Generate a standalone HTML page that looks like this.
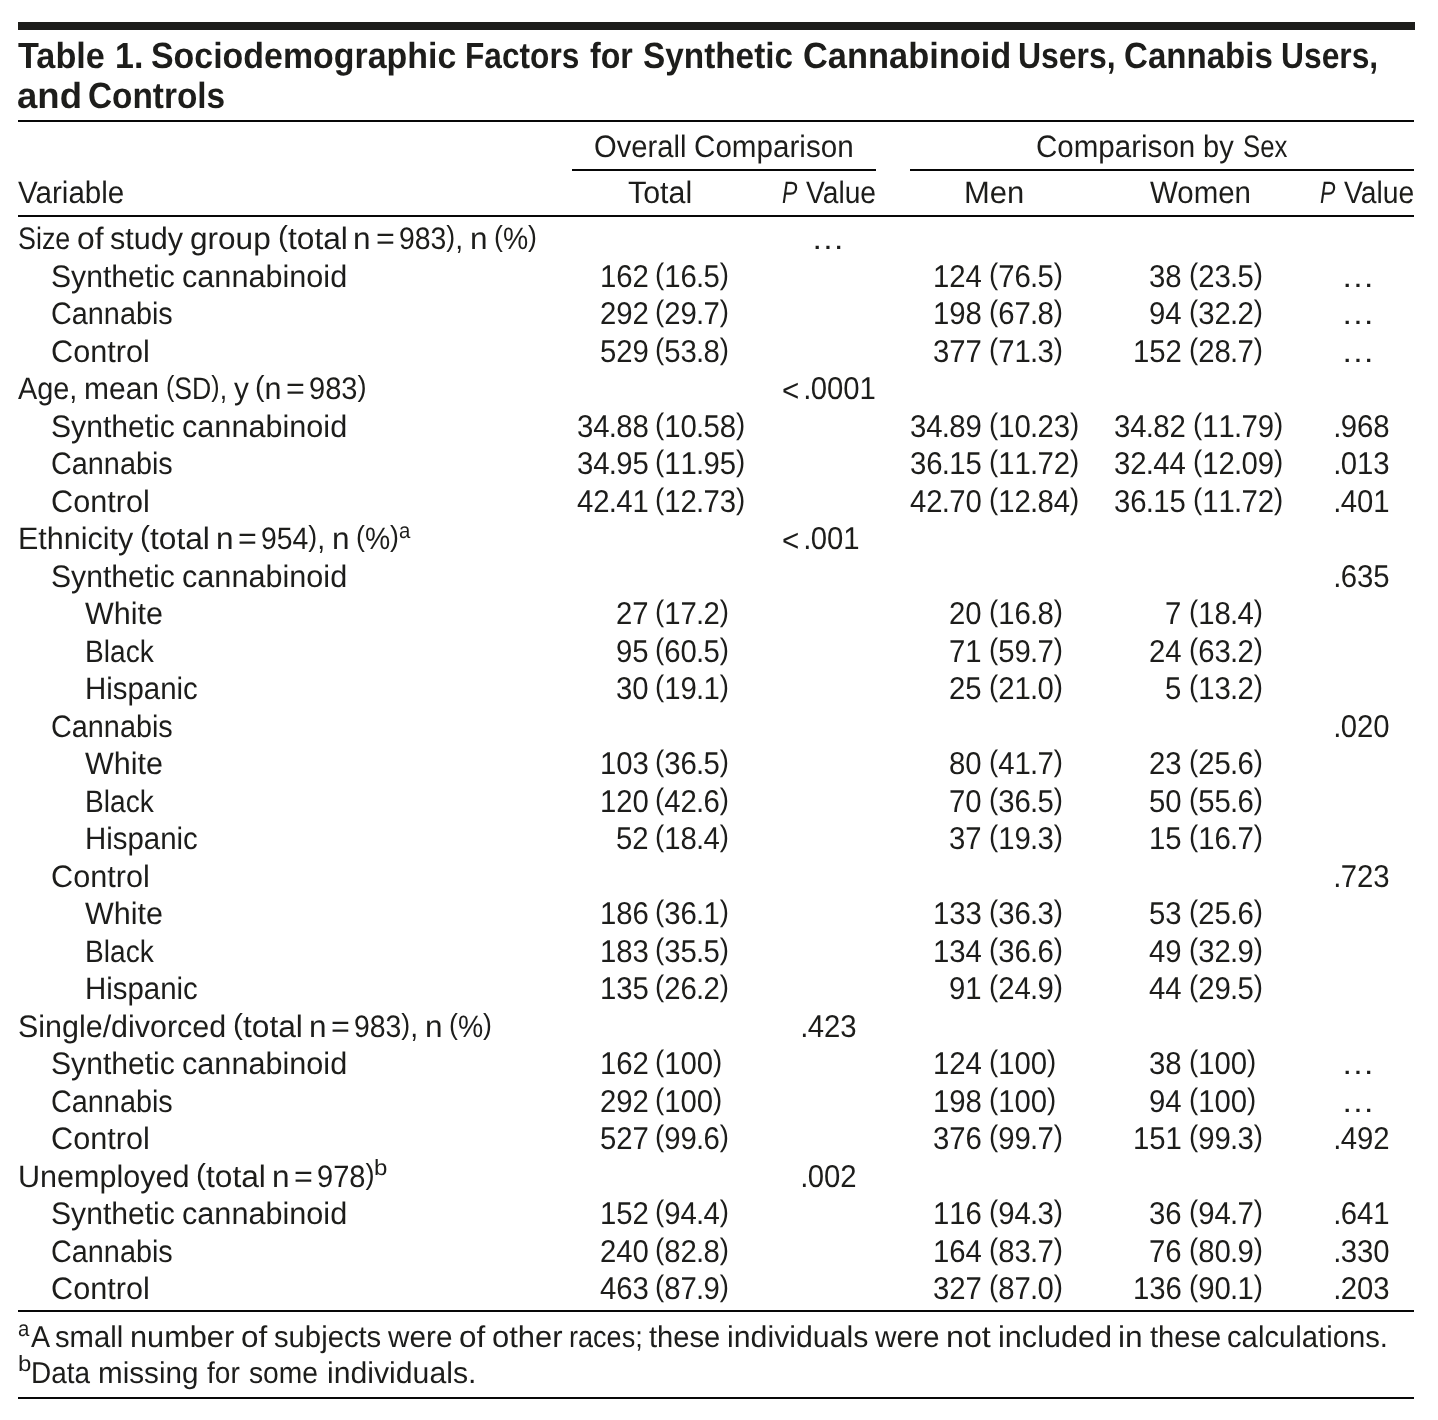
<!DOCTYPE html>
<html lang="en"><head><meta charset="utf-8"><title>Table 1</title>
<style>
html,body{margin:0;padding:0;background:#fff}
#p{position:relative;width:1438px;height:1420px;overflow:hidden;background:#fff;color:#1d1d1b;font-family:"Liberation Sans",sans-serif;text-rendering:geometricPrecision}
#p span{position:absolute;white-space:pre;transform-origin:0 0}
#p i{position:absolute;display:block;background:#1d1d1b}
#p .n{font-kerning:none}
#p u{text-decoration:none;margin:0 -0.82px}
#p b{font-weight:400;font-size:.94em;position:relative;top:-2.6px}
#p .b{font-size:31.0px;font-weight:400;font-style:normal;line-height:35px}
#p .n{font-size:31.5px;font-weight:400;font-style:normal;line-height:36px}
#p .i{font-size:31.0px;font-weight:400;font-style:italic;line-height:35px}
#p .t{font-size:36.4px;font-weight:700;font-style:normal;line-height:41px}
#p .f{font-size:30.0px;font-weight:400;font-style:normal;line-height:33px}
#p .s{font-size:22.0px;font-weight:400;font-style:normal;line-height:25px}
</style></head>
<body><div id="p">
<i style="left:18px;top:22.05px;width:1396.85px;height:8.3px;background:#1d1d1b"></i>
<i style="left:18px;top:119.95px;width:1396.3px;height:2.2px;background:#080808"></i>
<i style="left:572.1px;top:168.95px;width:304.2px;height:2.1px;background:#080808"></i>
<i style="left:910px;top:168.95px;width:504.3px;height:2.1px;background:#080808"></i>
<i style="left:18px;top:214.85px;width:1396.3px;height:2.2px;background:#080808"></i>
<i style="left:18px;top:1309.5px;width:1396.3px;height:2.5px;background:#080808"></i>
<i style="left:18px;top:1397px;width:1396.3px;height:2.4px;background:#080808"></i>
 <span class="t" style="left:18.40px;top:35px;transform:scaleX(0.9407)">Table</span> <span class="t" style="left:114.63px;top:35px;transform:scaleX(0.9337)">1.</span> <span class="t" style="left:150.97px;top:35px;transform:scaleX(0.9319)">Sociodemographic</span> <span class="t" style="left:465.26px;top:35px;transform:scaleX(0.8696)">Factors</span> <span class="t" style="left:590.20px;top:35px;transform:scaleX(0.8832)">for</span> <span class="t" style="left:642.68px;top:35px;transform:scaleX(0.9160)">Synthetic</span> <span class="t" style="left:802.85px;top:35px;transform:scaleX(0.9455)">Cannabinoid</span> <span class="t" style="left:1018.14px;top:35px;transform:scaleX(0.8781)">Users,</span> <span class="t" style="left:1123.59px;top:35px;transform:scaleX(0.9087)">Cannabis</span> <span class="t" style="left:1281.05px;top:35px;transform:scaleX(0.8735)">Users,</span>
<span class="t" style="left:17.40px;top:75px;transform:scaleX(1.0038)">and</span> <span class="t" style="left:87.58px;top:75px;transform:scaleX(0.9168)">Controls</span>
<span class="b" style="left:593.66px;top:129px;transform:scaleX(0.9412)">Overall</span> <span class="b" style="left:693.84px;top:129px;transform:scaleX(0.9552)">Comparison</span> <span class="b" style="left:1035.75px;top:129px;transform:scaleX(0.9528)">Comparison</span> <span class="b" style="left:1202.72px;top:129px;transform:scaleX(0.9379)">by</span> <span class="b" style="left:1242.87px;top:129px;transform:scaleX(0.8315)">Sex</span>
<span class="b" style="left:18.40px;top:175px;transform:scaleX(0.9538)">Variable</span> <span class="b" style="left:628.00px;top:175px;transform:scaleX(0.9796)">Total</span> <span class="i" style="left:782.40px;top:175px;transform:scaleX(0.7429)">P</span> <span class="b" style="left:805.70px;top:175px;transform:scaleX(0.9096)">Value</span> <span class="b" style="left:964.40px;top:175px;transform:scaleX(0.9989)">Men</span> <span class="b" style="left:1149.80px;top:175px;transform:scaleX(0.9504)">Women</span> <span class="i" style="left:1320.40px;top:175px;transform:scaleX(0.7429)">P</span> <span class="b" style="left:1343.70px;top:175px;transform:scaleX(0.9123)">Value</span>
<span class="b" style="left:18.00px;top:221px;transform:scaleX(0.8676)">Size</span> <span class="b" style="left:77.03px;top:221px;transform:scaleX(1.0277)">of</span> <span class="b" style="left:110.30px;top:221px;transform:scaleX(0.9863)">study</span> <span class="b" style="left:190.09px;top:221px;transform:scaleX(1.0182)">group</span> <span class="b" style="left:277.53px;top:221px;transform:scaleX(1.0237)"><b>(</b>total</span> <span class="b" style="left:353.46px;top:221px;transform:scaleX(1.0167)">n</span> <span class="b" style="left:375.50px;top:221px;transform:scaleX(1.0400)">=</span> <span class="b" style="left:398.83px;top:221px;transform:scaleX(0.9156)">983<b>)</b>,</span> <span class="b" style="left:469.68px;top:221px;transform:scaleX(1.0167)">n</span> <span class="b" style="left:493.92px;top:221px;transform:scaleX(0.9147)"><b>(</b>%<b>)</b></span> <span class="n" style="left:811.10px;top:220px;transform:scaleX(1.0750)">…</span>
<span class="b" style="left:51.30px;top:259px;transform:scaleX(0.9712)">Synthetic</span> <span class="b" style="left:181.84px;top:259px;transform:scaleX(0.9879)">cannabinoid</span> <span class="n" style="left:599.70px;top:258px;transform:scaleX(0.9304)">162</span> <span class="n" style="left:655.49px;top:258px;transform:scaleX(0.9304)"><b>(</b>16<u>.</u>5<b>)</b></span> <span class="n" style="left:933.10px;top:258px;transform:scaleX(0.9304)">124</span> <span class="n" style="left:988.89px;top:258px;transform:scaleX(0.9304)"><b>(</b>76<u>.</u>5<b>)</b></span> <span class="n" style="left:1149.19px;top:258px;transform:scaleX(0.9304)">38</span> <span class="n" style="left:1188.69px;top:258px;transform:scaleX(0.9304)"><b>(</b>23<u>.</u>5<b>)</b></span> <span class="n" style="left:1341.30px;top:258px;transform:scaleX(1.0750)">…</span>
<span class="b" style="left:51.30px;top:296px;transform:scaleX(0.9295)">Cannabis</span> <span class="n" style="left:599.70px;top:295px;transform:scaleX(0.9304)">292</span> <span class="n" style="left:655.49px;top:295px;transform:scaleX(0.9304)"><b>(</b>29<u>.</u>7<b>)</b></span> <span class="n" style="left:933.10px;top:295px;transform:scaleX(0.9304)">198</span> <span class="n" style="left:988.89px;top:295px;transform:scaleX(0.9304)"><b>(</b>67<u>.</u>8<b>)</b></span> <span class="n" style="left:1149.19px;top:295px;transform:scaleX(0.9304)">94</span> <span class="n" style="left:1188.69px;top:295px;transform:scaleX(0.9304)"><b>(</b>32<u>.</u>2<b>)</b></span> <span class="n" style="left:1341.30px;top:295px;transform:scaleX(1.0750)">…</span>
<span class="b" style="left:51.30px;top:334px;transform:scaleX(0.9887)">Control</span> <span class="n" style="left:599.70px;top:333px;transform:scaleX(0.9304)">529</span> <span class="n" style="left:655.49px;top:333px;transform:scaleX(0.9304)"><b>(</b>53<u>.</u>8<b>)</b></span> <span class="n" style="left:933.10px;top:333px;transform:scaleX(0.9304)">377</span> <span class="n" style="left:988.89px;top:333px;transform:scaleX(0.9304)"><b>(</b>71<u>.</u>3<b>)</b></span> <span class="n" style="left:1132.90px;top:333px;transform:scaleX(0.9304)">152</span> <span class="n" style="left:1188.69px;top:333px;transform:scaleX(0.9304)"><b>(</b>28<u>.</u>7<b>)</b></span> <span class="n" style="left:1341.30px;top:333px;transform:scaleX(1.0750)">…</span>
<span class="b" style="left:18.00px;top:371px;transform:scaleX(0.9309)">Age,</span> <span class="b" style="left:84.08px;top:371px;transform:scaleX(0.9666)">mean</span> <span class="b" style="left:165.73px;top:371px;transform:scaleX(0.8594)"><b>(</b>SD<b>)</b>,</span> <span class="b" style="left:233.54px;top:371px;transform:scaleX(0.9602)">y</span> <span class="b" style="left:255.13px;top:371px;transform:scaleX(0.9836)"><b>(</b>n</span> <span class="b" style="left:286.14px;top:371px;transform:scaleX(1.0400)">=</span> <span class="b" style="left:309.47px;top:371px;transform:scaleX(0.9376)">983<b>)</b></span> <span class="n" style="left:781.56px;top:372px;transform:scaleX(0.9375)">&lt;</span><span class="n" style="left:803.50px;top:370px;transform:scaleX(0.9304)"><u>.</u>0001</span>
<span class="b" style="left:51.30px;top:409px;transform:scaleX(0.9712)">Synthetic</span> <span class="b" style="left:181.84px;top:409px;transform:scaleX(0.9879)">cannabinoid</span> <span class="n" style="left:576.74px;top:408px;transform:scaleX(0.9304)">34<u>.</u>88</span> <span class="n" style="left:655.49px;top:408px;transform:scaleX(0.9304)"><b>(</b>10<u>.</u>58<b>)</b></span> <span class="n" style="left:910.14px;top:408px;transform:scaleX(0.9304)">34<u>.</u>89</span> <span class="n" style="left:988.89px;top:408px;transform:scaleX(0.9304)"><b>(</b>10<u>.</u>23<b>)</b></span> <span class="n" style="left:1114.44px;top:408px;transform:scaleX(0.9304)">34<u>.</u>82</span> <span class="n" style="left:1193.19px;top:408px;transform:scaleX(0.9304)"><b>(</b>11<u>.</u>79<b>)</b></span> <span class="n" style="left:1334.20px;top:408px;transform:scaleX(0.9304)"><u>.</u>968</span>
<span class="b" style="left:51.30px;top:446px;transform:scaleX(0.9295)">Cannabis</span> <span class="n" style="left:576.74px;top:445px;transform:scaleX(0.9304)">34<u>.</u>95</span> <span class="n" style="left:655.49px;top:445px;transform:scaleX(0.9304)"><b>(</b>11<u>.</u>95<b>)</b></span> <span class="n" style="left:910.14px;top:445px;transform:scaleX(0.9304)">36<u>.</u>15</span> <span class="n" style="left:988.89px;top:445px;transform:scaleX(0.9304)"><b>(</b>11<u>.</u>72<b>)</b></span> <span class="n" style="left:1114.44px;top:445px;transform:scaleX(0.9304)">32<u>.</u>44</span> <span class="n" style="left:1193.19px;top:445px;transform:scaleX(0.9304)"><b>(</b>12<u>.</u>09<b>)</b></span> <span class="n" style="left:1334.20px;top:445px;transform:scaleX(0.9304)"><u>.</u>013</span>
<span class="b" style="left:51.30px;top:484px;transform:scaleX(0.9887)">Control</span> <span class="n" style="left:576.74px;top:483px;transform:scaleX(0.9304)">42<u>.</u>41</span> <span class="n" style="left:655.49px;top:483px;transform:scaleX(0.9304)"><b>(</b>12<u>.</u>73<b>)</b></span> <span class="n" style="left:910.14px;top:483px;transform:scaleX(0.9304)">42<u>.</u>70</span> <span class="n" style="left:988.89px;top:483px;transform:scaleX(0.9304)"><b>(</b>12<u>.</u>84<b>)</b></span> <span class="n" style="left:1114.44px;top:483px;transform:scaleX(0.9304)">36<u>.</u>15</span> <span class="n" style="left:1193.19px;top:483px;transform:scaleX(0.9304)"><b>(</b>11<u>.</u>72<b>)</b></span> <span class="n" style="left:1334.20px;top:483px;transform:scaleX(0.9304)"><u>.</u>401</span>
<span class="b" style="left:18.00px;top:521px;transform:scaleX(0.9846)">Ethnicity</span> <span class="b" style="left:140.07px;top:521px;transform:scaleX(1.0237)"><b>(</b>total</span> <span class="b" style="left:216.00px;top:521px;transform:scaleX(1.0167)">n</span> <span class="b" style="left:238.04px;top:521px;transform:scaleX(1.0400)">=</span> <span class="b" style="left:261.37px;top:521px;transform:scaleX(0.9156)">954<b>)</b>,</span> <span class="b" style="left:332.22px;top:521px;transform:scaleX(1.0167)">n</span> <span class="b" style="left:356.46px;top:521px;transform:scaleX(0.9147)"><b>(</b>%<b>)</b></span><span class="s" style="left:398.83px;top:518px;transform:scaleX(0.9247)">a</span> <span class="n" style="left:781.56px;top:522px;transform:scaleX(0.9375)">&lt;</span><span class="n" style="left:803.50px;top:520px;transform:scaleX(0.9304)"><u>.</u>001</span>
<span class="b" style="left:51.30px;top:559px;transform:scaleX(0.9712)">Synthetic</span> <span class="b" style="left:181.84px;top:559px;transform:scaleX(0.9879)">cannabinoid</span> <span class="n" style="left:1334.20px;top:558px;transform:scaleX(0.9304)"><u>.</u>635</span>
<span class="b" style="left:84.60px;top:596px;transform:scaleX(0.9837)">White</span> <span class="n" style="left:615.99px;top:595px;transform:scaleX(0.9304)">27</span> <span class="n" style="left:655.49px;top:595px;transform:scaleX(0.9304)"><b>(</b>17<u>.</u>2<b>)</b></span> <span class="n" style="left:949.39px;top:595px;transform:scaleX(0.9304)">20</span> <span class="n" style="left:988.89px;top:595px;transform:scaleX(0.9304)"><b>(</b>16<u>.</u>8<b>)</b></span> <span class="n" style="left:1165.49px;top:595px;transform:scaleX(0.9304)">7</span> <span class="n" style="left:1188.69px;top:595px;transform:scaleX(0.9304)"><b>(</b>18<u>.</u>4<b>)</b></span>
<span class="b" style="left:84.60px;top:634px;transform:scaleX(0.9074)">Black</span> <span class="n" style="left:615.99px;top:633px;transform:scaleX(0.9304)">95</span> <span class="n" style="left:655.49px;top:633px;transform:scaleX(0.9304)"><b>(</b>60<u>.</u>5<b>)</b></span> <span class="n" style="left:949.39px;top:633px;transform:scaleX(0.9304)">71</span> <span class="n" style="left:988.89px;top:633px;transform:scaleX(0.9304)"><b>(</b>59<u>.</u>7<b>)</b></span> <span class="n" style="left:1149.19px;top:633px;transform:scaleX(0.9304)">24</span> <span class="n" style="left:1188.69px;top:633px;transform:scaleX(0.9304)"><b>(</b>63<u>.</u>2<b>)</b></span>
<span class="b" style="left:84.60px;top:671px;transform:scaleX(0.9489)">Hispanic</span> <span class="n" style="left:615.99px;top:670px;transform:scaleX(0.9304)">30</span> <span class="n" style="left:655.49px;top:670px;transform:scaleX(0.9304)"><b>(</b>19<u>.</u>1<b>)</b></span> <span class="n" style="left:949.39px;top:670px;transform:scaleX(0.9304)">25</span> <span class="n" style="left:988.89px;top:670px;transform:scaleX(0.9304)"><b>(</b>21<u>.</u>0<b>)</b></span> <span class="n" style="left:1165.49px;top:670px;transform:scaleX(0.9304)">5</span> <span class="n" style="left:1188.69px;top:670px;transform:scaleX(0.9304)"><b>(</b>13<u>.</u>2<b>)</b></span>
<span class="b" style="left:51.30px;top:709px;transform:scaleX(0.9295)">Cannabis</span> <span class="n" style="left:1334.20px;top:708px;transform:scaleX(0.9304)"><u>.</u>020</span>
<span class="b" style="left:84.60px;top:746px;transform:scaleX(0.9837)">White</span> <span class="n" style="left:599.70px;top:745px;transform:scaleX(0.9304)">103</span> <span class="n" style="left:655.49px;top:745px;transform:scaleX(0.9304)"><b>(</b>36<u>.</u>5<b>)</b></span> <span class="n" style="left:949.39px;top:745px;transform:scaleX(0.9304)">80</span> <span class="n" style="left:988.89px;top:745px;transform:scaleX(0.9304)"><b>(</b>41<u>.</u>7<b>)</b></span> <span class="n" style="left:1149.19px;top:745px;transform:scaleX(0.9304)">23</span> <span class="n" style="left:1188.69px;top:745px;transform:scaleX(0.9304)"><b>(</b>25<u>.</u>6<b>)</b></span>
<span class="b" style="left:84.60px;top:784px;transform:scaleX(0.9074)">Black</span> <span class="n" style="left:599.70px;top:783px;transform:scaleX(0.9304)">120</span> <span class="n" style="left:655.49px;top:783px;transform:scaleX(0.9304)"><b>(</b>42<u>.</u>6<b>)</b></span> <span class="n" style="left:949.39px;top:783px;transform:scaleX(0.9304)">70</span> <span class="n" style="left:988.89px;top:783px;transform:scaleX(0.9304)"><b>(</b>36<u>.</u>5<b>)</b></span> <span class="n" style="left:1149.19px;top:783px;transform:scaleX(0.9304)">50</span> <span class="n" style="left:1188.69px;top:783px;transform:scaleX(0.9304)"><b>(</b>55<u>.</u>6<b>)</b></span>
<span class="b" style="left:84.60px;top:821px;transform:scaleX(0.9489)">Hispanic</span> <span class="n" style="left:615.99px;top:820px;transform:scaleX(0.9304)">52</span> <span class="n" style="left:655.49px;top:820px;transform:scaleX(0.9304)"><b>(</b>18<u>.</u>4<b>)</b></span> <span class="n" style="left:949.39px;top:820px;transform:scaleX(0.9304)">37</span> <span class="n" style="left:988.89px;top:820px;transform:scaleX(0.9304)"><b>(</b>19<u>.</u>3<b>)</b></span> <span class="n" style="left:1149.19px;top:820px;transform:scaleX(0.9304)">15</span> <span class="n" style="left:1188.69px;top:820px;transform:scaleX(0.9304)"><b>(</b>16<u>.</u>7<b>)</b></span>
<span class="b" style="left:51.30px;top:859px;transform:scaleX(0.9887)">Control</span> <span class="n" style="left:1334.20px;top:858px;transform:scaleX(0.9304)"><u>.</u>723</span>
<span class="b" style="left:84.60px;top:896px;transform:scaleX(0.9837)">White</span> <span class="n" style="left:599.70px;top:895px;transform:scaleX(0.9304)">186</span> <span class="n" style="left:655.49px;top:895px;transform:scaleX(0.9304)"><b>(</b>36<u>.</u>1<b>)</b></span> <span class="n" style="left:933.10px;top:895px;transform:scaleX(0.9304)">133</span> <span class="n" style="left:988.89px;top:895px;transform:scaleX(0.9304)"><b>(</b>36<u>.</u>3<b>)</b></span> <span class="n" style="left:1149.19px;top:895px;transform:scaleX(0.9304)">53</span> <span class="n" style="left:1188.69px;top:895px;transform:scaleX(0.9304)"><b>(</b>25<u>.</u>6<b>)</b></span>
<span class="b" style="left:84.60px;top:934px;transform:scaleX(0.9074)">Black</span> <span class="n" style="left:599.70px;top:933px;transform:scaleX(0.9304)">183</span> <span class="n" style="left:655.49px;top:933px;transform:scaleX(0.9304)"><b>(</b>35<u>.</u>5<b>)</b></span> <span class="n" style="left:933.10px;top:933px;transform:scaleX(0.9304)">134</span> <span class="n" style="left:988.89px;top:933px;transform:scaleX(0.9304)"><b>(</b>36<u>.</u>6<b>)</b></span> <span class="n" style="left:1149.19px;top:933px;transform:scaleX(0.9304)">49</span> <span class="n" style="left:1188.69px;top:933px;transform:scaleX(0.9304)"><b>(</b>32<u>.</u>9<b>)</b></span>
<span class="b" style="left:84.60px;top:971px;transform:scaleX(0.9489)">Hispanic</span> <span class="n" style="left:599.70px;top:970px;transform:scaleX(0.9304)">135</span> <span class="n" style="left:655.49px;top:970px;transform:scaleX(0.9304)"><b>(</b>26<u>.</u>2<b>)</b></span> <span class="n" style="left:949.39px;top:970px;transform:scaleX(0.9304)">91</span> <span class="n" style="left:988.89px;top:970px;transform:scaleX(0.9304)"><b>(</b>24<u>.</u>9<b>)</b></span> <span class="n" style="left:1149.19px;top:970px;transform:scaleX(0.9304)">44</span> <span class="n" style="left:1188.69px;top:970px;transform:scaleX(0.9304)"><b>(</b>29<u>.</u>5<b>)</b></span>
<span class="b" style="left:18.00px;top:1009px;transform:scaleX(0.9823)">Single/divorced</span> <span class="b" style="left:232.91px;top:1009px;transform:scaleX(1.0237)"><b>(</b>total</span> <span class="b" style="left:308.84px;top:1009px;transform:scaleX(1.0167)">n</span> <span class="b" style="left:330.88px;top:1009px;transform:scaleX(1.0400)">=</span> <span class="b" style="left:354.21px;top:1009px;transform:scaleX(0.9156)">983<b>)</b>,</span> <span class="b" style="left:425.06px;top:1009px;transform:scaleX(1.0167)">n</span> <span class="b" style="left:449.30px;top:1009px;transform:scaleX(0.9147)"><b>(</b>%<b>)</b></span> <span class="n" style="left:801.10px;top:1008px;transform:scaleX(0.9304)"><u>.</u>423</span>
<span class="b" style="left:51.30px;top:1046px;transform:scaleX(0.9712)">Synthetic</span> <span class="b" style="left:181.84px;top:1046px;transform:scaleX(0.9879)">cannabinoid</span> <span class="n" style="left:599.70px;top:1045px;transform:scaleX(0.9304)">162</span> <span class="n" style="left:655.49px;top:1045px;transform:scaleX(0.9304)"><b>(</b>100<b>)</b></span> <span class="n" style="left:933.10px;top:1045px;transform:scaleX(0.9304)">124</span> <span class="n" style="left:988.89px;top:1045px;transform:scaleX(0.9304)"><b>(</b>100<b>)</b></span> <span class="n" style="left:1149.19px;top:1045px;transform:scaleX(0.9304)">38</span> <span class="n" style="left:1188.69px;top:1045px;transform:scaleX(0.9304)"><b>(</b>100<b>)</b></span> <span class="n" style="left:1341.30px;top:1045px;transform:scaleX(1.0750)">…</span>
<span class="b" style="left:51.30px;top:1084px;transform:scaleX(0.9295)">Cannabis</span> <span class="n" style="left:599.70px;top:1083px;transform:scaleX(0.9304)">292</span> <span class="n" style="left:655.49px;top:1083px;transform:scaleX(0.9304)"><b>(</b>100<b>)</b></span> <span class="n" style="left:933.10px;top:1083px;transform:scaleX(0.9304)">198</span> <span class="n" style="left:988.89px;top:1083px;transform:scaleX(0.9304)"><b>(</b>100<b>)</b></span> <span class="n" style="left:1149.19px;top:1083px;transform:scaleX(0.9304)">94</span> <span class="n" style="left:1188.69px;top:1083px;transform:scaleX(0.9304)"><b>(</b>100<b>)</b></span> <span class="n" style="left:1341.30px;top:1083px;transform:scaleX(1.0750)">…</span>
<span class="b" style="left:51.30px;top:1121px;transform:scaleX(0.9887)">Control</span> <span class="n" style="left:599.70px;top:1120px;transform:scaleX(0.9304)">527</span> <span class="n" style="left:655.49px;top:1120px;transform:scaleX(0.9304)"><b>(</b>99<u>.</u>6<b>)</b></span> <span class="n" style="left:933.10px;top:1120px;transform:scaleX(0.9304)">376</span> <span class="n" style="left:988.89px;top:1120px;transform:scaleX(0.9304)"><b>(</b>99<u>.</u>7<b>)</b></span> <span class="n" style="left:1132.90px;top:1120px;transform:scaleX(0.9304)">151</span> <span class="n" style="left:1188.69px;top:1120px;transform:scaleX(0.9304)"><b>(</b>99<u>.</u>3<b>)</b></span> <span class="n" style="left:1334.20px;top:1120px;transform:scaleX(0.9304)"><u>.</u>492</span>
<span class="b" style="left:18.00px;top:1159px;transform:scaleX(0.9853)">Unemployed</span> <span class="b" style="left:196.19px;top:1159px;transform:scaleX(1.0237)"><b>(</b>total</span> <span class="b" style="left:272.12px;top:1159px;transform:scaleX(1.0167)">n</span> <span class="b" style="left:294.16px;top:1159px;transform:scaleX(1.0400)">=</span> <span class="b" style="left:317.49px;top:1159px;transform:scaleX(0.9376)">978<b>)</b></span><span class="s" style="left:373.90px;top:1155px;transform:scaleX(1.0916)">b</span> <span class="n" style="left:801.10px;top:1158px;transform:scaleX(0.9304)"><u>.</u>002</span>
<span class="b" style="left:51.30px;top:1196px;transform:scaleX(0.9712)">Synthetic</span> <span class="b" style="left:181.84px;top:1196px;transform:scaleX(0.9879)">cannabinoid</span> <span class="n" style="left:599.70px;top:1195px;transform:scaleX(0.9304)">152</span> <span class="n" style="left:655.49px;top:1195px;transform:scaleX(0.9304)"><b>(</b>94<u>.</u>4<b>)</b></span> <span class="n" style="left:933.10px;top:1195px;transform:scaleX(0.9304)">116</span> <span class="n" style="left:988.89px;top:1195px;transform:scaleX(0.9304)"><b>(</b>94<u>.</u>3<b>)</b></span> <span class="n" style="left:1149.19px;top:1195px;transform:scaleX(0.9304)">36</span> <span class="n" style="left:1188.69px;top:1195px;transform:scaleX(0.9304)"><b>(</b>94<u>.</u>7<b>)</b></span> <span class="n" style="left:1334.20px;top:1195px;transform:scaleX(0.9304)"><u>.</u>641</span>
<span class="b" style="left:51.30px;top:1234px;transform:scaleX(0.9295)">Cannabis</span> <span class="n" style="left:599.70px;top:1233px;transform:scaleX(0.9304)">240</span> <span class="n" style="left:655.49px;top:1233px;transform:scaleX(0.9304)"><b>(</b>82<u>.</u>8<b>)</b></span> <span class="n" style="left:933.10px;top:1233px;transform:scaleX(0.9304)">164</span> <span class="n" style="left:988.89px;top:1233px;transform:scaleX(0.9304)"><b>(</b>83<u>.</u>7<b>)</b></span> <span class="n" style="left:1149.19px;top:1233px;transform:scaleX(0.9304)">76</span> <span class="n" style="left:1188.69px;top:1233px;transform:scaleX(0.9304)"><b>(</b>80<u>.</u>9<b>)</b></span> <span class="n" style="left:1334.20px;top:1233px;transform:scaleX(0.9304)"><u>.</u>330</span>
<span class="b" style="left:51.30px;top:1271px;transform:scaleX(0.9887)">Control</span> <span class="n" style="left:599.70px;top:1270px;transform:scaleX(0.9304)">463</span> <span class="n" style="left:655.49px;top:1270px;transform:scaleX(0.9304)"><b>(</b>87<u>.</u>9<b>)</b></span> <span class="n" style="left:933.10px;top:1270px;transform:scaleX(0.9304)">327</span> <span class="n" style="left:988.89px;top:1270px;transform:scaleX(0.9304)"><b>(</b>87<u>.</u>0<b>)</b></span> <span class="n" style="left:1132.90px;top:1270px;transform:scaleX(0.9304)">136</span> <span class="n" style="left:1188.69px;top:1270px;transform:scaleX(0.9304)"><b>(</b>90<u>.</u>1<b>)</b></span> <span class="n" style="left:1334.20px;top:1270px;transform:scaleX(0.9304)"><u>.</u>203</span>
<span class="s" style="left:17.80px;top:1316px;transform:scaleX(0.9247)">a</span><span class="f" style="left:30.50px;top:1321px;transform:scaleX(0.9546)">A</span> <span class="f" style="left:55.23px;top:1321px;transform:scaleX(0.9738)">small</span> <span class="f" style="left:130.03px;top:1321px;transform:scaleX(1.0242)">number</span> <span class="f" style="left:240.83px;top:1321px;transform:scaleX(1.0489)">of</span> <span class="f" style="left:273.70px;top:1321px;transform:scaleX(0.9744)">subjects</span> <span class="f" style="left:387.56px;top:1321px;transform:scaleX(0.9914)">were</span> <span class="f" style="left:458.65px;top:1321px;transform:scaleX(1.0489)">of</span> <span class="f" style="left:491.52px;top:1321px;transform:scaleX(1.0330)">other</span> <span class="f" style="left:568.79px;top:1321px;transform:scaleX(0.9022)">races;</span> <span class="f" style="left:649.12px;top:1321px;transform:scaleX(0.9716)">these</span> <span class="f" style="left:727.05px;top:1321px;transform:scaleX(1.0097)">individuals</span> <span class="f" style="left:875.12px;top:1321px;transform:scaleX(0.9914)">were</span> <span class="f" style="left:946.21px;top:1321px;transform:scaleX(1.0739)">not</span> <span class="f" style="left:997.63px;top:1321px;transform:scaleX(1.0204)">included</span> <span class="f" style="left:1118.30px;top:1321px;transform:scaleX(1.0545)">in</span> <span class="f" style="left:1149.55px;top:1321px;transform:scaleX(0.9716)">these</span> <span class="f" style="left:1227.47px;top:1321px;transform:scaleX(0.9748)">calculations.</span>
<span class="s" style="left:18.00px;top:1351px;transform:scaleX(1.0916)">b</span><span class="f" style="left:30.84px;top:1357px;transform:scaleX(0.9305)">Data</span> <span class="f" style="left:98.12px;top:1357px;transform:scaleX(0.9877)">missing</span> <span class="f" style="left:206.90px;top:1357px;transform:scaleX(0.9366)">for</span> <span class="f" style="left:248.70px;top:1357px;transform:scaleX(0.9412)">some</span> <span class="f" style="left:326.79px;top:1357px;transform:scaleX(1.0064)">individuals.</span>
</div></body></html>
